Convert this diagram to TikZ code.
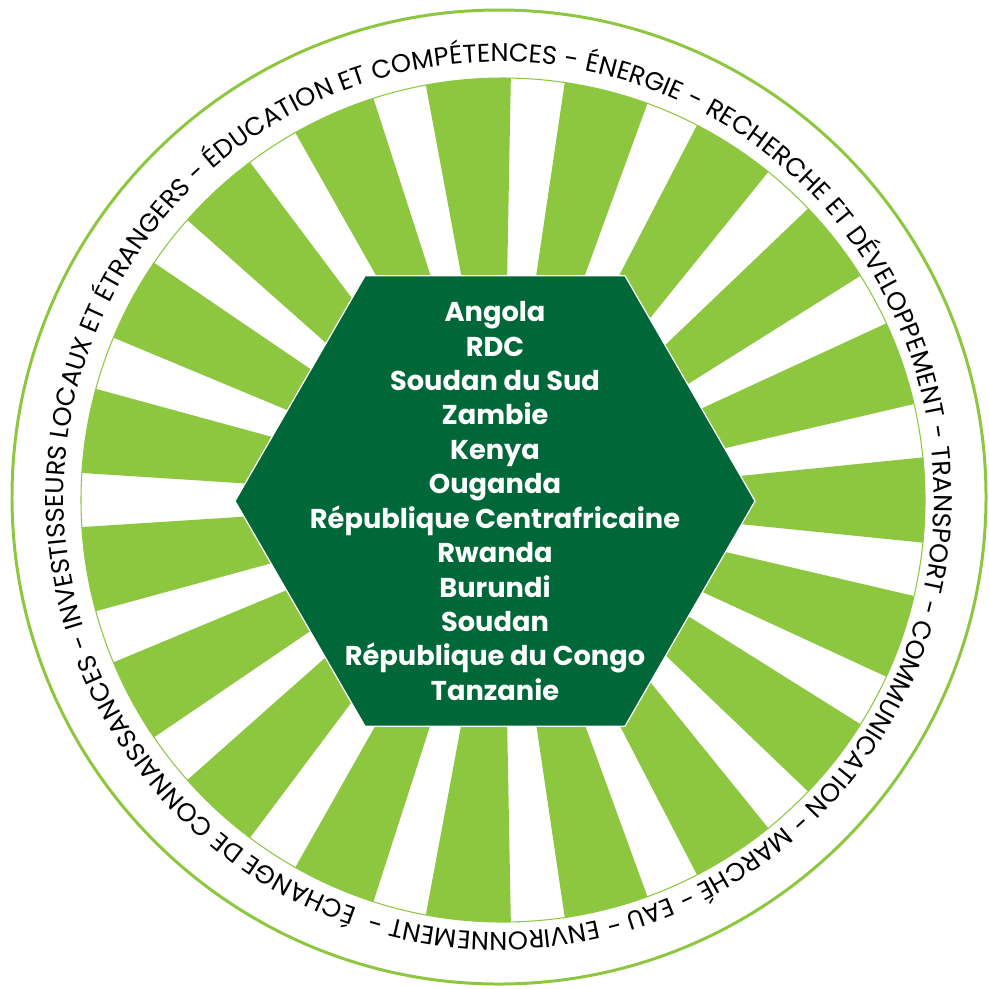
\documentclass[tikz,border=0pt]{standalone}
\usepackage{fontspec}
\usetikzlibrary{decorations.text}
\newfontfamily\ringfont{Poppins}
\newfontfamily\hexfont{Poppins}
\definecolor{leafgreen}{HTML}{8DC63F}
\definecolor{forestgreen}{HTML}{006838}
\tikzset{
  ray/.style={fill=leafgreen},
  rim/.style={draw=leafgreen, line width=1.7pt},
  rayedge/.style={draw=leafgreen, line width=0.6pt},
  hexbox/.style={fill=forestgreen, draw=white, line width=0.7pt},
  countries/.style={text=white, align=center, font=\hexfont\bfseries\fontsize{15.5}{19.6}\selectfont}
}
\begin{document}
\begin{tikzpicture}[x=0.02cm,y=0.02cm]
  \useasboundingbox (0,0) rectangle (989,-988);
  \coordinate (ringc) at (503,-500);
  \coordinate (rimc) at (499,-497);
  \coordinate (hexc) at (495,-501);

  % outer rim
  \draw[rim] (rimc) circle[radius=487];

  % rays
  \foreach \a in {0,...,18}{
    \fill[ray] (ringc) -- ++({\a*360/19-5.8}:422)
      arc[start angle={\a*360/19-5.8}, end angle={\a*360/19+5.8}, radius=422] -- cycle;
  }
  \draw[rayedge] (ringc) circle[radius=422];

  % themes round the rim
  \path[decorate, decoration={text along path, text align=fit to path,
    text={|\ringfont\fontsize{14.6}{14.6}\selectfont|ÉCHANGE DE CONNAISSANCES - INVESTISSEURS LOCAUX ET ÉTRANGERS - ÉDUCATION ET COMPÉTENCES - ÉNERGIE - RECHERCHE ET DÉVELOPPEMENT - TRANSPORT - COMMUNICATION - MARCHÉ - EAU - ENVIRONNEMENT -}}]
    (rimc) ++(251:435) arc[start angle=251, end angle=-107, radius=435];

  % hexagon
  \filldraw[hexbox, shift={(hexc)}] (0:260) -- (60:260) -- (120:260) -- (180:260)
    -- (240:260) -- (300:260) -- cycle;
  \node[countries] (countrylist) at (hexc) {Angola\\RDC\\Soudan du Sud\\Zambie\\Kenya\\Ouganda\\République Centrafricaine\\Rwanda\\Burundi\\Soudan\\République du Congo\\Tanzanie};
\end{tikzpicture}
\end{document}
